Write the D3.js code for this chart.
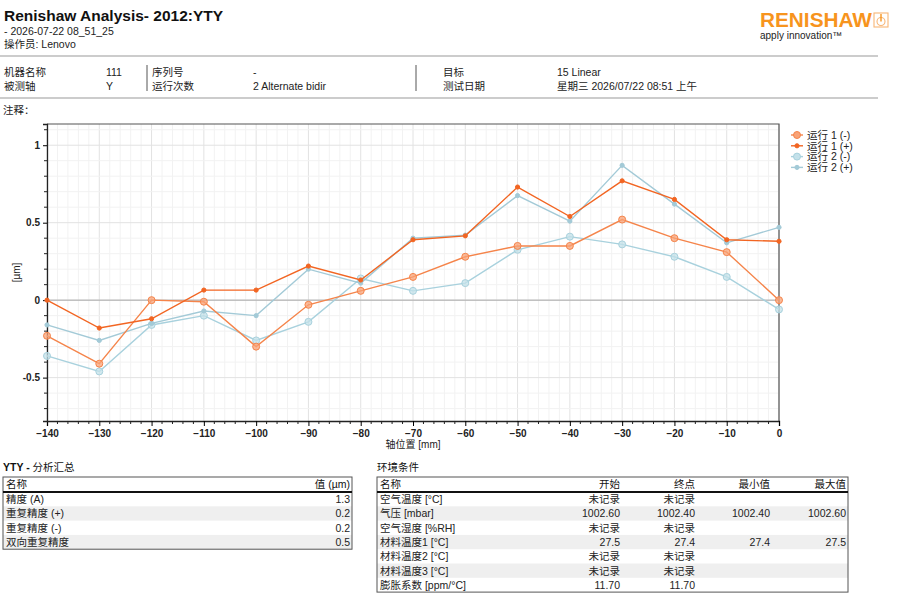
<!DOCTYPE html>
<html>
<head>
<meta charset="utf-8">
<script src="https://cdn.jsdelivr.net/npm/d3@7"></script>
<style>
  body { margin: 0; background: #fff; }
  svg { display: block; font-family: "Liberation Sans", Arial, "Noto Sans CJK SC", sans-serif; }
  .cjk { font-family: "Liberation Sans", "Noto Sans CJK SC", sans-serif; }
  .axis text { font-size: 10px; font-weight: bold; fill: #222; }
</style>
</head>
<body>
<div id="page"></div>
<script>
// axis positions [mm]
var positions = [-140, -130, -120, -110, -100, -90, -80, -70, -60, -50, -40, -30, -20, -10, 0];

// deviation values [um]
var run1Minus = [-0.23, -0.41, 0.00, -0.01, -0.30, -0.03, 0.06, 0.15, 0.28, 0.35, 0.35, 0.52, 0.40, 0.31, 0.00];
var run1Plus  = [0.00, -0.18, -0.12, 0.065, 0.065, 0.22, 0.13, 0.39, 0.415, 0.73, 0.54, 0.77, 0.65, 0.39, 0.38];
var run2Minus = [-0.36, -0.46, -0.16, -0.10, -0.26, -0.14, 0.14, 0.06, 0.11, 0.325, 0.41, 0.36, 0.28, 0.15, -0.06];
var run2Plus  = [-0.16, -0.26, -0.15, -0.07, -0.10, 0.20, 0.11, 0.40, 0.42, 0.675, 0.51, 0.87, 0.62, 0.37, 0.47];

var seriesNames = ["运行 1 (-)", "运行 1 (+)", "运行 2 (-)", "运行 2 (+)"];
var yTicks = [-0.5, 0, 0.5, 1];

// summary table
var summaryHeader = ["名称", "值 (µm)"];
var summaryNames = ["精度 (A)", "重复精度 (+)", "重复精度 (-)", "双向重复精度"];
var summaryValues = ["1.3", "0.2", "0.2", "0.5"];

// environment table
var envHeader = ["名称", "开始", "终点", "最小值", "最大值"];
var envNames = ["空气温度 [°C]", "气压 [mbar]", "空气湿度 [%RH]", "材料温度1 [°C]", "材料温度2 [°C]", "材料温度3 [°C]", "膨胀系数 [ppm/°C]"];
var envStart = ["未记录", "1002.60", "未记录", "27.5", "未记录", "未记录", "11.70"];
var envEnd   = ["未记录", "1002.40", "未记录", "27.4", "未记录", "未记录", "11.70"];
var envMin   = ["", "1002.40", "", "27.4", "", "", ""];
var envMax   = ["", "1002.60", "", "27.5", "", "", ""];

var svg = d3.select("#page").append("svg").attr("width", 900).attr("height", 599);

// ---------- header ----------
svg.append("text").attr("x", 4).attr("y", 21).style("font-size", "15.5px").style("font-weight", "bold")
    .attr("fill", "#111").text("Renishaw Analysis- 2012:YTY");
svg.append("text").attr("x", 4).attr("y", 35).style("font-size", "10.5px").attr("fill", "#222").text("- 2026-07-22 08_51_25");
svg.append("text").attr("class", "cjk").attr("x", 4).attr("y", 48).style("font-size", "10.5px").attr("fill", "#222").text("操作员: Lenovo");

// logo
svg.append("text").attr("x", 760).attr("y", 27).style("font-size", "20px").style("font-weight", "bold")
    .attr("fill", "#f7941d").attr("textLength", 112).attr("lengthAdjust", "spacingAndGlyphs").text("RENISHAW");
var logo = svg.append("g").attr("transform", "translate(874,13)");
logo.append("rect").attr("width", 14).attr("height", 14).attr("fill", "none").attr("stroke", "#f8b676").attr("stroke-width", 1.1);
logo.append("circle").attr("cx", 7).attr("cy", 8.5).attr("r", 4).attr("fill", "none").attr("stroke", "#f8b676").attr("stroke-width", 1.1);
logo.append("line").attr("x1", 7).attr("x2", 7).attr("y1", 1).attr("y2", 8.5).attr("stroke", "#f7941d").attr("stroke-width", 1.4);
svg.append("text").attr("x", 760).attr("y", 39).style("font-size", "10px").attr("fill", "#222").text("apply innovation™");

// info block
var hr = svg.append("g").attr("stroke", "#bbb").attr("stroke-width", 1.5);
hr.append("line").attr("x1", 0).attr("x2", 878).attr("y1", 56).attr("y2", 56);
hr.append("line").attr("x1", 0).attr("x2", 878).attr("y1", 98).attr("y2", 98);
svg.append("line").attr("x1", 147).attr("x2", 147).attr("y1", 65).attr("y2", 91).attr("stroke", "#555");
svg.append("line").attr("x1", 416).attr("x2", 416).attr("y1", 65).attr("y2", 91).attr("stroke", "#555");

var infoRows = [
    ["机器名称", "111", "序列号", "-", "目标", "15 Linear"],
    ["被测轴", "Y", "运行次数", "2 Alternate bidir", "测试日期", "星期三 2026/07/22 08:51 上午"]
];
var infoX = [4, 106, 152, 253, 443, 557];
infoRows.forEach(function (row, i) {
    row.forEach(function (t, j) {
        svg.append("text").attr("class", "cjk").attr("x", infoX[j]).attr("y", 76 + i * 13.5)
            .style("font-size", "10.5px").attr("fill", "#222").text(t);
    });
});
svg.append("text").attr("class", "cjk").attr("x", 3).attr("y", 114).style("font-size", "10.5px").attr("fill", "#222").text("注释：");

// ---------- chart ----------
var plot = { left: 47, right: 779, top: 124, bottom: 421 };

var x = d3.scaleLinear().domain([-140, 0]).range([plot.left, plot.right]);
var y = d3.scaleLinear().domain([-0.78, 1.137]).range([plot.bottom, plot.top]);

var grid = svg.append("g");
grid.selectAll(".vminor").data(d3.range(-140, 1, 2)).enter().append("line")
    .attr("x1", d => x(d)).attr("x2", d => x(d)).attr("y1", plot.top).attr("y2", plot.bottom)
    .attr("stroke", d => d % 10 === 0 ? "#e2e2e2" : "#f2f2f2");
grid.selectAll(".hminor").data(d3.range(-7, 12, 1).map(d => d / 10)).enter().append("line")
    .attr("x1", plot.left).attr("x2", plot.right).attr("y1", d => y(d)).attr("y2", d => y(d))
    .attr("stroke", d => Math.abs(d * 10 % 5) < 1e-6 ? "#e2e2e2" : "#f2f2f2");

// zero line
svg.append("line").attr("x1", plot.left).attr("x2", plot.right).attr("y1", y(0)).attr("y2", y(0))
    .attr("stroke", "#aaa").attr("stroke-width", 1);

// frame top/right
svg.append("path").attr("d", "M" + plot.left + "," + plot.top + "H" + plot.right + "V" + plot.bottom)
    .attr("fill", "none").attr("stroke", "#555").attr("stroke-width", 1.2);

// axes
var xAxis = d3.axisBottom(x).tickValues(positions).tickSize(5).tickPadding(4).tickFormat(d3.format("d"));
var gx = svg.append("g").attr("class", "axis").attr("transform", "translate(0," + plot.bottom + ")").call(xAxis);
gx.select(".domain").attr("stroke", "#222").attr("stroke-width", 1.3);
gx.selectAll(".minor").data(d3.range(-140, 1, 2).filter(d => d % 10 !== 0)).enter().append("line")
    .attr("x1", d => x(d)).attr("x2", d => x(d)).attr("y1", 0).attr("y2", 3).attr("stroke", "#222");

var yAxis = d3.axisLeft(y).tickValues(yTicks).tickSize(4).tickPadding(3).tickFormat(d => d === 0 ? "0" : String(d));
var gy = svg.append("g").attr("class", "axis").attr("transform", "translate(" + plot.left + ",0)").call(yAxis);
gy.select(".domain").attr("stroke", "#222").attr("stroke-width", 1.3);
gy.selectAll(".minor").data(d3.range(-7, 12, 1).map(d => d / 10).filter(d => Math.abs(d * 10 % 5) > 1e-6)).enter().append("line")
    .attr("x1", -3).attr("x2", 0).attr("y1", d => y(d)).attr("y2", d => y(d)).attr("stroke", "#222");

svg.append("text").attr("transform", "translate(20," + ((plot.top + plot.bottom) / 2) + ") rotate(-90)")
    .attr("text-anchor", "middle").style("font-size", "10px").attr("fill", "#222").text("[µm]");
svg.append("text").attr("class", "cjk").attr("x", (plot.left + plot.right) / 2).attr("y", 448)
    .attr("text-anchor", "middle").style("font-size", "10px").attr("fill", "#222").text("轴位置 [mm]");

// series
var series = [
    { name: seriesNames[0], values: run1Minus, stroke: "#f5844a", fill: "#f9a377", r: 3.5 },
    { name: seriesNames[1], values: run1Plus,  stroke: "#f26522", fill: "#f26522", r: 2.1 },
    { name: seriesNames[2], values: run2Minus, stroke: "#a8d1dd", fill: "#c4e1ea", r: 3.5 },
    { name: seriesNames[3], values: run2Plus,  stroke: "#a3cad7", fill: "#a3cad7", r: 2.1 }
];

var line = d3.line()
    .x(function (d, i) { return x(positions[i]); })
    .y(function (d) { return y(d); })
    .curve(d3.curveLinear);

// draw blue runs underneath orange ones
[2, 3, 0, 1].forEach(function (k) {
    var s = series[k];
    var g = svg.append("g");
    g.append("path").datum(s.values).attr("d", line).attr("fill", "none")
        .attr("stroke", s.stroke).attr("stroke-width", 1.4);
    g.selectAll("circle").data(s.values).enter().append("circle")
        .attr("cx", (d, i) => x(positions[i])).attr("cy", d => y(d)).attr("r", s.r)
        .attr("fill", s.fill).attr("fill-opacity", s.r > 3 ? 0.75 : 1).attr("stroke", s.stroke).attr("stroke-width", 1);
});

// legend
var legend = svg.append("g").attr("transform", "translate(791,135)");
series.forEach(function (s, i) {
    var row = legend.append("g").attr("transform", "translate(0," + (i * 10.8) + ")");
    row.append("line").attr("x1", 0).attr("x2", 12).attr("stroke", s.stroke).attr("stroke-width", 1.4);
    row.append("circle").attr("cx", 6).attr("r", s.r).attr("fill", s.fill).attr("stroke", s.stroke);
    row.append("text").attr("class", "cjk").attr("x", 16).attr("y", 3.8).style("font-size", "10.5px")
        .attr("fill", "#222").text(s.name);
});

// ---------- tables ----------
function drawTable(left, right, colRights, header, rows) {
    var top = 477, headH = 15, rowH = 14.3;
    var t = svg.append("g").attr("class", "cjk");
    rows.forEach(function (r, i) {
        if (i % 2 === 1) {
            t.append("rect").attr("x", left).attr("y", top + headH + i * rowH).attr("width", right - left)
                .attr("height", rowH).attr("fill", "#efefef");
        }
    });
    t.append("rect").attr("x", left).attr("y", top).attr("width", right - left)
        .attr("height", headH + rows.length * rowH).attr("fill", "none").attr("stroke", "#555").attr("stroke-width", 1);
    t.append("line").attr("x1", left).attr("x2", right).attr("y1", top + headH).attr("y2", top + headH)
        .attr("stroke", "#111").attr("stroke-width", 2);
    header.forEach(function (h, j) {
        t.append("text").attr("x", j === 0 ? left + 3 : colRights[j - 1]).attr("y", top + 11)
            .attr("text-anchor", j === 0 ? "start" : "end").style("font-size", "10.5px").attr("fill", "#111").text(h);
    });
    rows.forEach(function (r, i) {
        r.forEach(function (c, j) {
            t.append("text").attr("x", j === 0 ? left + 3 : colRights[j - 1]).attr("y", top + headH + i * rowH + 11)
                .attr("text-anchor", j === 0 ? "start" : "end").style("font-size", "10.5px").attr("fill", "#222").text(c);
        });
    });
}

var summaryRows = summaryNames.map((n, i) => [n, summaryValues[i]]);
drawTable(3, 352, [350], summaryHeader, summaryRows);
svg.append("text").attr("class", "cjk").attr("x", 3).attr("y", 471).style("font-size", "10.5px").attr("fill", "#111")
    .html('<tspan font-weight="bold">YTY - </tspan>分析汇总');

var envRows = envNames.map((n, i) => [n, envStart[i], envEnd[i], envMin[i], envMax[i]]);
drawTable(377, 848, [620, 695, 770, 846], envHeader, envRows);
svg.append("text").attr("class", "cjk").attr("x", 377).attr("y", 471).style("font-size", "10.5px").attr("fill", "#111")
    .text("环境条件");
</script>
</body>
</html>
